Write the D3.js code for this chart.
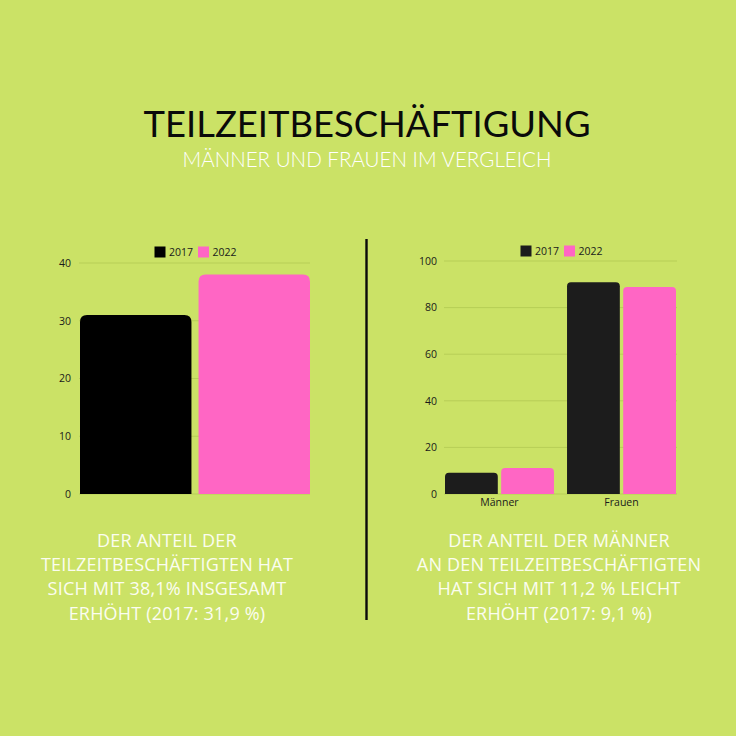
<!DOCTYPE html>
<html>
<head>
<meta charset="utf-8">
<script src="https://cdn.jsdelivr.net/npm/d3@7"></script>
<style>
html,body{margin:0;padding:0;background:#cbe266;}
svg{display:block;}
</style>
</head>
<body>
<svg id="chart" width="736" height="736"></svg>
<script>
// ---- data ----
const title = "TEILZEITBESCHÄFTIGUNG";
const subtitle = "MÄNNER UND FRAUEN IM VERGLEICH";
const seriesNames = ["2017", "2022"];
const leftCategories = ["Gesamt"];
const leftValues2017 = [31];
const leftValues2022 = [38];
const leftTicks = [0, 10, 20, 30, 40];
const rightCategories = ["Männer", "Frauen"];
const rightValues2017 = [9.1, 90.9];
const rightValues2022 = [11.2, 88.8];
const rightTicks = [0, 20, 40, 60, 80, 100];
const leftText = ["DER ANTEIL DER", "TEILZEITBESCHÄFTIGTEN HAT", "SICH MIT 38,1% INSGESAMT", "ERHÖHT (2017: 31,9 %)"];
const rightText = ["DER ANTEIL DER MÄNNER", "AN DEN TEILZEITBESCHÄFTIGTEN", "HAT SICH MIT 11,2 % LEICHT", "ERHÖHT (2017: 9,1 %)"];

const svg = d3.select("#chart");
const FONT = "'Open Sans', 'Noto Sans', sans-serif";
const TFONT = "Lato, 'Open Sans', sans-serif";

svg.append("rect").attr("width", 736).attr("height", 736).attr("fill", "#cbe266");

svg.append("text").attr("x", 367).attr("y", 137).attr("text-anchor", "middle")
  .attr("font-family", TFONT).attr("font-size", 37).attr("fill", "#0a0a0a")
  .attr("textLength", 447).attr("lengthAdjust", "spacingAndGlyphs")
  .text(title);
svg.append("text").attr("x", 367).attr("y", 166.5).attr("text-anchor", "middle")
  .attr("font-family", TFONT).attr("font-weight", 300).attr("font-size", 21.5).attr("fill", "#ffffff")
  .attr("textLength", 369).attr("lengthAdjust", "spacingAndGlyphs")
  .text(subtitle);

// divider
svg.append("rect").attr("x", 365.3).attr("y", 239).attr("width", 2.4).attr("height", 381).attr("fill", "#0a0a0a");

function barPath(x, y, w, h, r) {
  r = Math.min(r, w / 2, h);
  return `M${x},${y + h}V${y + r}Q${x},${y} ${x + r},${y}H${x + w - r}Q${x + w},${y} ${x + w},${y + r}V${y + h}Z`;
}

function drawChart(opt) {
  const g = svg.append("g");
  const y = d3.scaleLinear().domain([0, opt.ticks[opt.ticks.length - 1]]).range([opt.y0, opt.y1]);
  const x0 = d3.scaleBand().domain(opt.categories).range([opt.x0, opt.x1]).paddingInner(opt.padOuterGroup).paddingOuter(0);
  const x1 = d3.scaleBand().domain(seriesNames).range([0, x0.bandwidth()]).paddingInner(opt.padInner).paddingOuter(0);
  const colors = d3.scaleOrdinal().domain(seriesNames).range([opt.black, "#ff66c4"]);

  // gridlines
  g.append("g").selectAll("line").data(opt.ticks).join("line")
    .attr("x1", opt.gx0).attr("x2", opt.gx1)
    .attr("y1", d => y(d)).attr("y2", d => y(d))
    .attr("stroke", "#b7ce57").attr("stroke-width", 1);

  // y axis
  const ya = g.append("g").attr("transform", `translate(${opt.gx0},0)`)
    .call(d3.axisLeft(y).tickValues(opt.ticks).tickSize(0).tickPadding(opt.tickPad));
  ya.select(".domain").remove();
  ya.selectAll("text").attr("font-family", FONT).attr("font-size", 10.5).attr("fill", "#1a1a1a");

  // bars
  const data = opt.categories.map((c, i) => ({ c, vals: [opt.v2017[i], opt.v2022[i]] }));
  const grp = g.selectAll("g.grp").data(data).join("g").attr("class", "grp")
    .attr("transform", d => `translate(${x0(d.c)},0)`);
  grp.selectAll("path").data(d => seriesNames.map((s, i) => ({ s, v: d.vals[i] }))).join("path")
    .attr("d", d => barPath(x1(d.s), y(d.v), x1.bandwidth(), y(0) - y(d.v), opt.radius))
    .attr("fill", d => colors(d.s));

  // x axis labels
  if (opt.showX) {
    const xa = g.append("g").attr("transform", `translate(0,${opt.y0})`)
      .call(d3.axisBottom(x0).tickSize(0).tickPadding(5));
    xa.select(".domain").remove();
    xa.selectAll("text").attr("font-family", FONT).attr("font-size", 10.5).attr("fill", "#1a1a1a");
  }

  // legend
  const lg = g.append("g");
  seriesNames.forEach((s, i) => {
    const lx = opt.legendX + i * 43.5;
    lg.append("rect").attr("x", lx).attr("y", opt.legendY).attr("width", 11).attr("height", 11)
      .attr("fill", colors(s));
    lg.append("text").attr("x", lx + 14.5).attr("y", opt.legendY + 9.5)
      .attr("font-family", FONT).attr("font-size", 10.5).attr("fill", "#1a1a1a").text(s);
  });
}

drawChart({
  categories: leftCategories, v2017: leftValues2017, v2022: leftValues2022, ticks: leftTicks,
  y0: 494, y1: 263, x0: 80, x1: 310, gx0: 79, gx1: 310, padOuterGroup: 0, padInner: 0.06,
  radius: 7, black: "#000000", showX: false, legendX: 154.5, legendY: 246.5, tickPad: 8
});
drawChart({
  categories: rightCategories, v2017: rightValues2017, v2022: rightValues2022, ticks: rightTicks,
  y0: 494, y1: 261, x0: 445, x1: 676, gx0: 444, gx1: 677, padOuterGroup: 0.107, padInner: 0.06,
  radius: 4, black: "#1c1c1c", showX: true, legendX: 520.5, legendY: 245.5, tickPad: 7
});

function para(lines, cx) {
  svg.append("g").selectAll("text").data(lines).join("text")
    .attr("x", cx).attr("y", (d, i) => 547 + i * 24.2)
    .attr("text-anchor", "middle").attr("font-family", FONT).attr("font-size", 18)
    .attr("letter-spacing", 0.2)
    .attr("fill", "#fbfdf0").text(d => d);
}
para(leftText, 167);
para(rightText, 559);
</script>
</body>
</html>
